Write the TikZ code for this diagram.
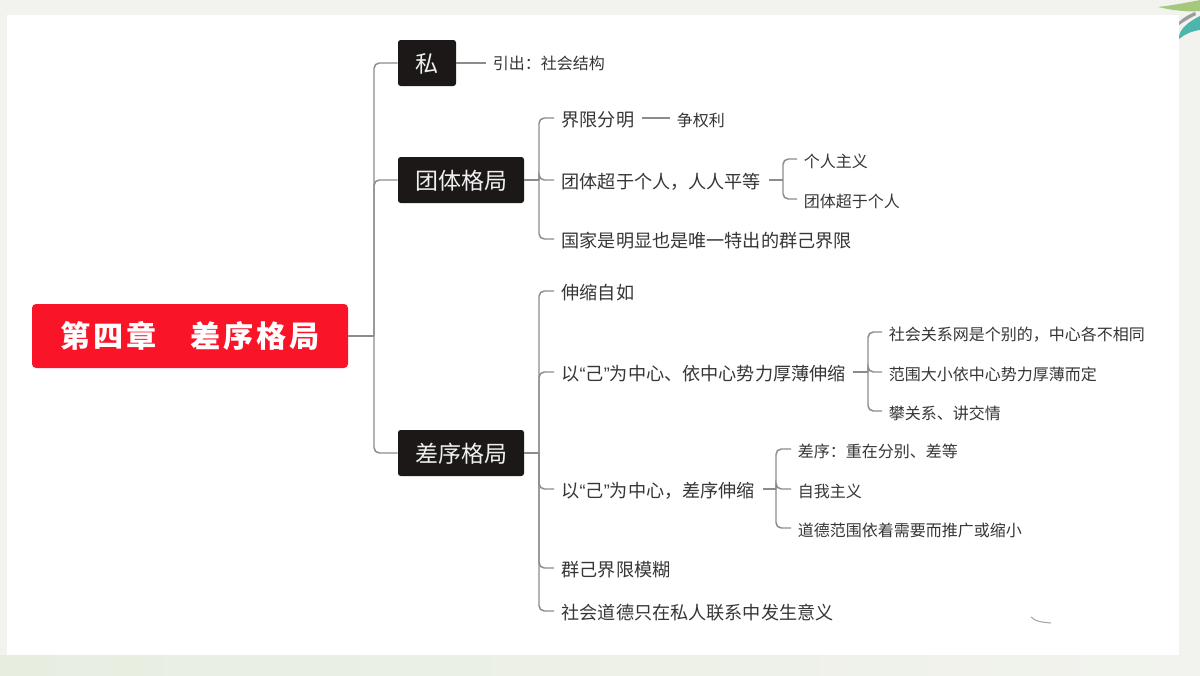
\documentclass[tikz,border=0pt]{standalone}
\usepackage{fontspec}
\setmainfont{Noto Sans CJK SC}
\newfontfamily\quotefont{Liberation Sans}
\definecolor{rootred}{HTML}{FA1428}
\definecolor{boxblack}{HTML}{1C1817}
\definecolor{linegray}{HTML}{8C8C8C}
\definecolor{textgray}{HTML}{363636}
\definecolor{pagebg}{HTML}{F2F3EE}
\definecolor{bandgreen}{HTML}{E7EEE0}
\definecolor{leafgreen}{HTML}{A5C87E}
\definecolor{leafgray}{HTML}{9C9C9C}
\definecolor{leafteal}{HTML}{4DB6AC}
\newcommand{\openq}{{\quotefont “}}
\newcommand{\closeq}{{\quotefont ”}}
\tikzset{
  rootbox/.style={fill=rootred, text=white, rounded corners=3pt, minimum width=237pt, minimum height=48pt, inner sep=0pt, font=\fontsize{22.6}{26}\selectfont\bfseries\addfontfeature{LetterSpace=9}},
  topicbox/.style={fill=boxblack, text=white!94!black, rounded corners=2pt, minimum height=34.5pt, inner sep=0pt, text height=15.5pt, text depth=1pt, font=\fontsize{17.25}{20}\selectfont},
  itemtext/.style={anchor=west, text=textgray, inner xsep=5.5pt, inner ysep=0pt, text height=14.4pt, text depth=1pt, font=\fontsize{13.6}{16}\selectfont},
  subtext/.style={anchor=west, text=textgray, inner xsep=5pt, inner ysep=0pt, text height=13.2pt, text depth=1pt, font=\fontsize{12}{14}\selectfont},
  branch/.style={draw=linegray, line width=1.1pt, rounded corners=4pt},
}
\begin{document}
\begin{tikzpicture}[x=0.75pt,y=-0.75pt]
\useasboundingbox (0,0) rectangle (1200,675);

% page
\fill[pagebg] (0,0) rectangle (1200,675);
\shade[left color=bandgreen, right color=pagebg] (0,655) rectangle (1200,675);
\fill[white] (7,15) rectangle (1179,655);

% leaves
\fill[leafgreen] (1158,7) .. controls (1175,5) and (1190,2) .. (1200,0) -- (1200,11) .. controls (1190,12) and (1175,11) .. (1158,7);
\fill[leafgray] (1179,22) .. controls (1184,17) and (1190,14) .. (1195,12) -- (1196,15) .. controls (1190,18) and (1185,21) .. (1179,25);
\fill[leafteal] (1179,39) .. controls (1178,29) and (1190,21) .. (1200,16) -- (1200,30) .. controls (1192,31) and (1185,34) .. (1179,39);

% boxes
\node[rootbox] (root) at (190,336) {第四章\hspace{26pt}差序格局};
\node[topicbox, minimum width=43.5pt] (si) at (427,63) {私};
\node[topicbox, minimum width=94.5pt] (tuanti) at (461,180) {团体格局};
\node[topicbox, minimum width=94.5pt] (chaxu) at (461,453) {差序格局};

\coordinate (trunkA) at (374,336);
\coordinate (trunkB) at (539,180);
\coordinate (trunkC) at (539,453);
\coordinate (trunkD) at (783,180);
\coordinate (trunkE) at (868,372);
\coordinate (trunkF) at (776,489);

% first level
\node[subtext, text height=10.2pt] (yinchu) at (486,63) {引出：社会结构};

\node[itemtext] (jiexian) at (554,118) {界限分明};
\node[itemtext] (tuanchao) at (554,180) {团体超于个人，人人平等};
\node[itemtext] (guojia) at (554,239) {国家是明显也是唯一特出的群己界限};
\node[subtext] (zheng) at (670,118) {争权利};
\node[subtext] (geren) at (797,159) {个人主义};
\node[subtext] (chaoyu) at (797,199) {团体超于个人};

\node[itemtext] (shensuo) at (554,291) {伸缩自如};
\node[itemtext] (houbo) at (554,372) {以\openq 己\closeq 为中心、依中心势力厚薄伸缩};
\node[itemtext] (zhongxin) at (554,489) {以\openq 己\closeq 为中心，差序伸缩};
\node[itemtext] (mohu) at (554,568) {群己界限模糊};
\node[itemtext] (daode) at (554,611) {社会道德只在私人联系中发生意义};

\node[subtext] (wang) at (882,332) {社会关系网是个别的，中心各不相同};
\node[subtext] (fanwei) at (882,372) {范围大小依中心势力厚薄而定};
\node[subtext] (pan) at (882,411) {攀关系、讲交情};

\node[subtext] (fenbie) at (791,449) {差序：重在分别、差等};
\node[subtext] (ziwo) at (791,489) {自我主义};
\node[subtext] (tuiguang) at (791,528) {道德范围依着需要而推广或缩小};

% connectors
\draw[branch] (root.east) -- (trunkA);
\foreach \n in {si,tuanti,chaxu} \draw[branch] (trunkA) |- (\n.west);
\draw[branch] (si.east) -- (yinchu.west);

\draw[branch] (tuanti.east) -- (trunkB);
\foreach \n in {jiexian,tuanchao,guojia} \draw[branch] (trunkB) |- (\n.west);
\draw[branch] (jiexian.east) -- (zheng.west);
\draw[branch] (tuanchao.east) -- (trunkD);
\foreach \n in {geren,chaoyu} \draw[branch] (trunkD) |- (\n.west);

\draw[branch] (chaxu.east) -- (trunkC);
\foreach \n in {shensuo,houbo,zhongxin,mohu,daode} \draw[branch] (trunkC) |- (\n.west);
\draw[branch] (houbo.east) -- (trunkE);
\foreach \n in {wang,fanwei,pan} \draw[branch] (trunkE) |- (\n.west);
\draw[branch] (zhongxin.east) -- (trunkF);
\foreach \n in {fenbie,ziwo,tuiguang} \draw[branch] (trunkF) |- (\n.west);

% mark at the bottom right
\draw[gray!70, line width=.8pt] (1031,617) .. controls (1036,622) and (1042,622) .. (1051,623);

\end{tikzpicture}
\end{document}
